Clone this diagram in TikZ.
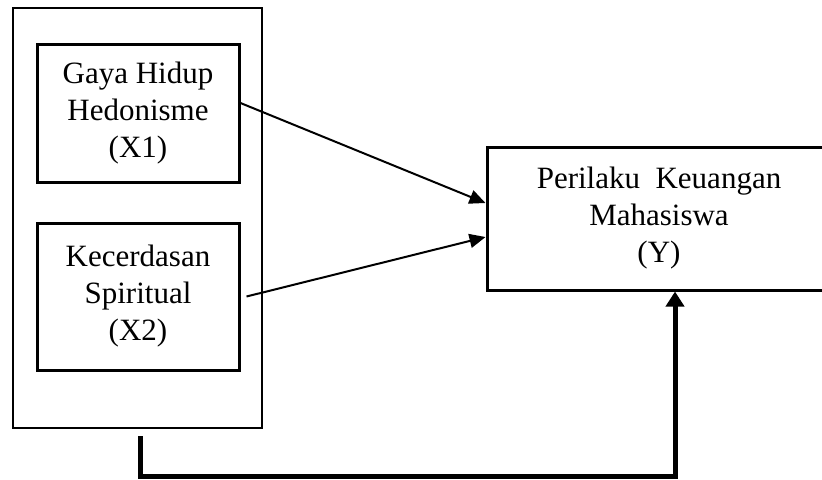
\documentclass[tikz,border=0pt]{standalone}
\usepackage{fontspec}
\setmainfont{Liberation Serif}
\usepackage{tikz}
\usetikzlibrary{positioning,arrows.meta,calc}

\begin{document}
\begin{tikzpicture}[
  x=0.5pt, y=-0.5pt,
  varbox/.style={rectangle, draw=black, line width=1.5pt, align=center,
                 font=\fontsize{15.5pt}{18.5pt}\selectfont, inner sep=0pt},
  groupbox/.style={rectangle, draw=black, line width=1pt, inner sep=0pt,
                   minimum width=124.5pt, minimum height=210pt},
  arrow/.style={-{Triangle[length=8pt,width=7pt]}, line width=1pt},
  feedback/.style={-{Triangle[length=7.5pt,width=9pt]}, line width=2.5pt}
]
\useasboundingbox (0,0) rectangle (822,479);

% Group of independent variables
\node[groupbox] (group) at (137.5,217.5) {};

% Independent variables
\node[varbox, minimum width=101pt, minimum height=69pt] (x1) at (138,113)
  {Gaya Hidup\\Hedonisme\\(X1)};
\node[varbox, minimum width=101pt, minimum height=73.5pt] (x2) at (138,296.5)
  {Kecerdasan\\Spiritual\\(X2)};

% Dependent variable
\node[varbox, minimum width=172pt, minimum height=71.5pt] (y) at (659,218.5)
  {Perilaku\ \ Keuangan\\Mahasiswa\\(Y)};

% Partial effects
\draw[arrow] ([yshift=5pt]x1.east) -- ([yshift=7.75pt]y.west);
\draw[arrow] ([xshift=3pt]x2.east) -- ([yshift=-9.25pt]y.west);

% Simultaneous effect
\coordinate (turn) at (675,476);
\draw[feedback, line cap=rect] ([xshift=1.25pt,yshift=-5pt]group.south) |- (turn) -- (turn |- y.south);

\end{tikzpicture}
\end{document}
